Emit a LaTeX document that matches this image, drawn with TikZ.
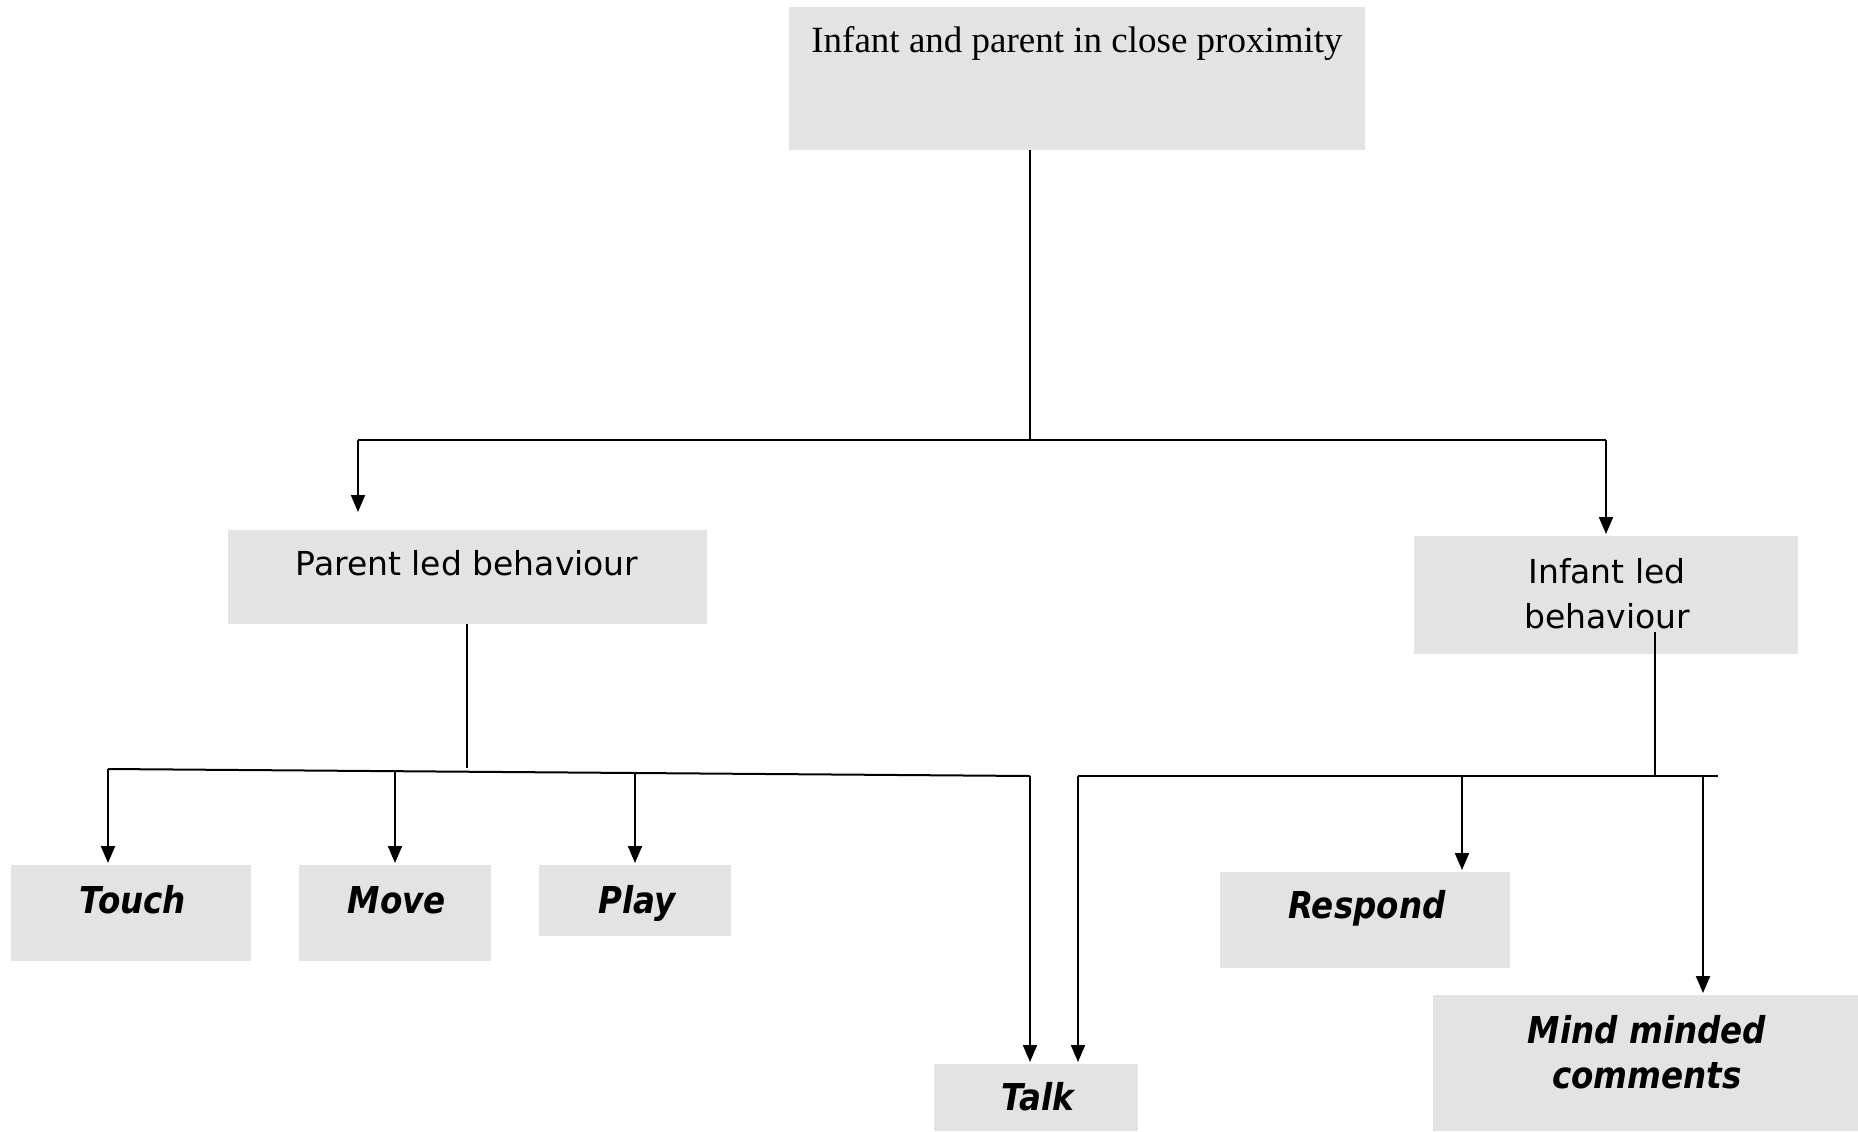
\documentclass[tikz,border=0pt]{standalone}
\usepackage{fontspec}
\setmainfont{Liberation Serif}
\newfontfamily\boxsans{DejaVu Sans}
\newfontfamily\boxsansbi[FakeStretch=0.88]{DejaVu Sans Bold Oblique}
\usetikzlibrary{arrows.meta}
\definecolor{boxgray}{RGB}{227,227,227}
\tikzset{
  x=1pt, y=-1pt,
  box/.style={fill=boxgray, draw=none, anchor=north west, inner sep=0pt},
  lbl/.style={anchor=base, inner sep=0pt, align=center},
  plain/.style={font=\boxsans\fontsize{33}{45}\selectfont},
  emph/.style={font=\boxsansbi\fontsize{37}{45}\selectfont},
  serif/.style={font=\fontsize{37}{44}\selectfont},
  conn/.style={line width=2pt, draw=black},
  arr/.style={conn, -{Triangle[length=17pt,width=14pt]}},
}
\begin{document}
\begin{tikzpicture}
\useasboundingbox (0,0) rectangle (1858,1132);
% boxes
\node[box, minimum width=576pt, minimum height=143pt] (top) at (789,7) {};
\node[box, minimum width=479pt, minimum height=94pt] (pb) at (228,530) {};
\node[box, minimum width=384pt, minimum height=118pt] (ib) at (1414,536) {};
\node[box, minimum width=240pt, minimum height=96pt] (touch) at (11,865) {};
\node[box, minimum width=192pt, minimum height=96pt] (move) at (299,865) {};
\node[box, minimum width=192pt, minimum height=71pt] (play) at (539,865) {};
\node[box, minimum width=204pt, minimum height=67pt] (talk) at (934,1064) {};
\node[box, minimum width=290pt, minimum height=96pt] (resp) at (1220,872) {};
\node[box, minimum width=425pt, minimum height=136pt] (mind) at (1433,995) {};
% labels
\node[lbl, serif] (topt) at (1077,53) {Infant and parent in close proximity};
\node[lbl, plain] (pbt) at (467,575) {Parent led behaviour};
\node[lbl, plain] (ibt1) at (1607,583) {Infant led};
\node[lbl, plain] (ibt2) at (1607,628) {behaviour};
\node[lbl, emph] (toucht) at (133,913) {Touch};
\node[lbl, emph] (movet) at (397,913) {Move};
\node[lbl, emph] (playt) at (637,913) {Play};
\node[lbl, emph] (respt) at (1367,918) {Respond};
\node[lbl, emph] (talkt) at (1038,1110) {Talk};
\node[lbl, emph] (mindt1) at (1647,1043) {Mind minded};
\node[lbl, emph] (mindt2) at (1647,1088) {comments};
% junction coordinates
\coordinate (t0) at (1030,150);
\coordinate (j0) at (1030,440);
\coordinate (jl) at (358,440);
\coordinate (jr) at (1606,440);
\coordinate (p0) at (467,624);
\coordinate (p1) at (467,768);
\coordinate (bl0) at (108,769);
\coordinate (bm) at (395,771);
\coordinate (bp) at (635,773);
\coordinate (bl1) at (1030,776);
\coordinate (i0) at (1655,632);
\coordinate (i1) at (1655,776);
\coordinate (br0) at (1078,776);
\coordinate (brr) at (1462,776);
\coordinate (brm) at (1703,776);
\coordinate (br1) at (1718,776);
% connectors
\draw[conn] (t0) -- (j0);
\draw[conn] (jl) -- (jr);
\draw[arr] (jl) -- ([yshift=18pt]pb.north -| jl);
\draw[arr] (jr) -- ([yshift=2pt]ib.north -| jr);
\draw[conn] (p0) -- (p1);
\draw[conn] (bl0) -- (bl1);
\draw[arr] (bl0) -- ([yshift=2pt]touch.north -| bl0);
\draw[arr] (bm) -- ([yshift=2pt]move.north -| bm);
\draw[arr] (bp) -- ([yshift=2pt]play.north -| bp);
\draw[arr] (bl1) -- ([yshift=2pt]talk.north -| bl1);
\draw[conn] (i0) -- (i1);
\draw[conn] (br0) -- (br1);
\draw[arr] (br0) -- ([yshift=2pt]talk.north -| br0);
\draw[arr] (brr) -- ([yshift=2pt]resp.north -| brr);
\draw[arr] (brm) -- ([yshift=2pt]mind.north -| brm);
\end{tikzpicture}
\end{document}
